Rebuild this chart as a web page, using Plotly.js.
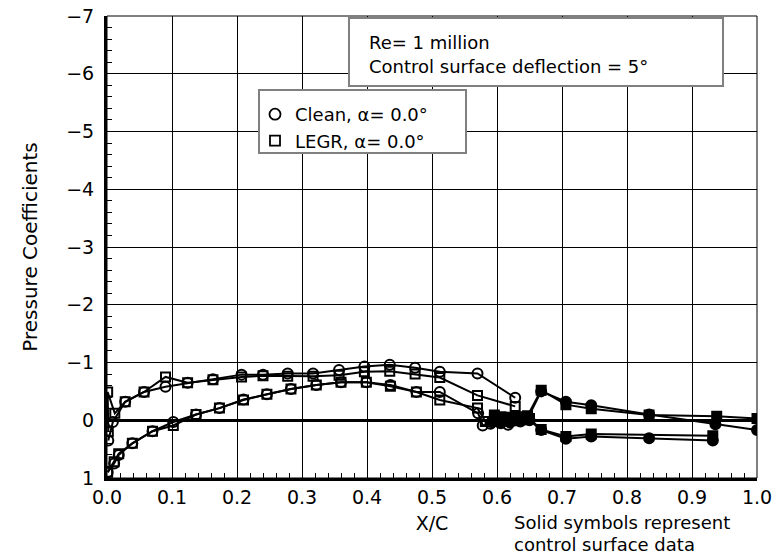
<!DOCTYPE html>
<html>
<head>
<meta charset="utf-8">
<script src="https://cdn.plot.ly/plotly-3.0.1.min.js"></script>
<style>
  html, body { margin: 0; padding: 0; background: #fff; }
  #chart { width: 780px; height: 556px; }
</style>
</head>
<body>
<div id="chart"></div>
<script>
// Pressure distribution, Re = 1 million, control surface at 5 deg.
// Main element: upper surface listed from trailing edge toward the leading edge,
// lower surface from the leading edge back into the cove.

// Clean airfoil, main element
const cleanUpperX  = [0.628, 0.570, 0.512, 0.474, 0.435, 0.396, 0.357, 0.317, 0.278, 0.240, 0.207, 0.163, 0.124, 0.090, 0.057, 0.028, 0.009, 0.002];
const cleanUpperCp = [-0.39, -0.81, -0.84, -0.91, -0.96, -0.93, -0.87, -0.81, -0.81, -0.79, -0.79, -0.71, -0.65, -0.58, -0.49, -0.32, 0.03, 0.35];
const cleanLowerX  = [0.001, 0.011, 0.018, 0.039, 0.070, 0.102, 0.137, 0.173, 0.210, 0.246, 0.283, 0.322, 0.360, 0.399, 0.436, 0.476, 0.512, 0.571, 0.578, 0.590, 0.604, 0.617];
const cleanLowerCp = [0.90, 0.75, 0.60, 0.40, 0.19, 0.03, -0.10, -0.21, -0.36, -0.45, -0.54, -0.61, -0.66, -0.66, -0.61, -0.49, -0.49, -0.12, 0.09, 0.06, 0.04, 0.08];

// LEGR airfoil, main element
const legrUpperX  = [0.628, 0.570, 0.512, 0.474, 0.435, 0.396, 0.357, 0.317, 0.278, 0.240, 0.207, 0.163, 0.124, 0.090, 0.057, 0.028, 0.012, 0.001, 0.002];
const legrUpperCp = [-0.24, -0.43, -0.74, -0.80, -0.85, -0.84, -0.78, -0.76, -0.76, -0.77, -0.75, -0.70, -0.65, -0.75, -0.49, -0.32, -0.12, -0.49, 0.20];
const legrLowerX  = [0.001, 0.011, 0.018, 0.039, 0.070, 0.102, 0.137, 0.173, 0.210, 0.246, 0.283, 0.322, 0.360, 0.399, 0.436, 0.476, 0.512, 0.570, 0.582, 0.598];
const legrLowerCp = [0.90, 0.72, 0.58, 0.40, 0.19, 0.09, -0.10, -0.21, -0.35, -0.45, -0.54, -0.61, -0.66, -0.66, -0.59, -0.49, -0.35, -0.21, 0.02, -0.02];

// Control surface (solid symbols)
const cleanFlapUpperX  = [0.592, 0.604, 0.618, 0.633, 0.648, 0.668, 0.706, 0.745, 0.834, 0.936, 1.000];
const cleanFlapUpperCp = [0.03, -0.02, -0.04, -0.03, -0.05, -0.50, -0.32, -0.26, -0.10, 0.07, 0.17];
const cleanFlapLowerX  = [0.592, 0.606, 0.620, 0.636, 0.650, 0.668, 0.706, 0.745, 0.834, 0.932];
const cleanFlapLowerCp = [0.03, 0.05, 0.04, 0.02, 0.00, 0.17, 0.32, 0.28, 0.31, 0.35];

const legrFlapUpperX  = [0.596, 0.606, 0.620, 0.634, 0.647, 0.668, 0.706, 0.745, 0.834, 0.938, 1.000];
const legrFlapUpperCp = [-0.09, -0.06, -0.05, -0.06, -0.08, -0.52, -0.27, -0.20, -0.09, -0.07, -0.03];
const legrFlapLowerX  = [0.596, 0.610, 0.624, 0.638, 0.650, 0.668, 0.706, 0.745, 0.932];
const legrFlapLowerCp = [-0.04, 0.00, 0.01, -0.01, -0.03, 0.16, 0.28, 0.24, 0.27];

const legendNames = ['Clean, \u03b1= 0.0\u00b0', 'LEGR, \u03b1= 0.0\u00b0'];
const infoLines = ['Re= 1 million', 'Control surface deflection = 5\u00b0'];
const noteLines = ['Solid symbols represent', 'control surface data'];

const FONT = 'DejaVu Sans, Verdana, sans-serif';
const INK = '#000';

function series(x, y, symbol, size) {
  return {
    x: x, y: y, type: 'scatter', mode: 'lines+markers', showlegend: false,
    hoverinfo: 'x+y',
    line: { color: INK, width: 2 },
    marker: { symbol: symbol, size: size, color: INK, line: { color: INK, width: 2 } }
  };
}

const traces = [
  series(cleanUpperX, cleanUpperCp, 'circle-open', 10),
  series(cleanLowerX, cleanLowerCp, 'circle-open', 10),
  series(legrUpperX, legrUpperCp, 'square-open', 9),
  series(legrLowerX, legrLowerCp, 'square-open', 9),
  series(cleanFlapUpperX, cleanFlapUpperCp, 'circle', 10),
  series(cleanFlapLowerX, cleanFlapLowerCp, 'circle', 10),
  series(legrFlapUpperX, legrFlapUpperCp, 'square', 9),
  series(legrFlapLowerX, legrFlapLowerCp, 'square', 9),
  // symbol-only legend entries
  { x: [null], y: [null], type: 'scatter', mode: 'markers', name: legendNames[0],
    marker: { symbol: 'circle-open', size: 11, color: INK, line: { color: INK, width: 1.8 } } },
  { x: [null], y: [null], type: 'scatter', mode: 'markers', name: legendNames[1],
    marker: { symbol: 'square-open', size: 10, color: INK, line: { color: INK, width: 1.8 } } }
];

// plot area: 107..757 px wide, 16..478 px tall
const L = 107, T = 16, W = 650, H = 462;
const px = v => (v - L) / W;
const py = v => 1 - (v - T) / H;

const layout = {
  width: 780, height: 556,
  margin: { l: L, r: 780 - L - W, t: T, b: 556 - T - H, pad: 0 },
  paper_bgcolor: '#fff', plot_bgcolor: '#fff',
  font: { family: FONT, size: 18, color: INK },
  showlegend: true,
  legend: {
    x: px(255), y: py(96), xanchor: 'left', yanchor: 'top',
    bgcolor: 'rgba(0,0,0,0)', borderwidth: 0,
    font: { family: FONT, size: 18, color: INK },
    itemwidth: 30, tracegroupgap: 0
  },
  xaxis: {
    range: [0, 1], tick0: 0, dtick: 0.1, tickformat: '.1f',
    ticks: 'inside', ticklen: 8, tickwidth: 1, tickcolor: INK,
    showgrid: true, gridcolor: INK, gridwidth: 1,
    showline: true, linewidth: 3, linecolor: INK, zeroline: false,
    minor: { dtick: 0.02, ticks: 'inside', ticklen: 5, tickwidth: 1, tickcolor: INK, showgrid: false },
    tickfont: { family: FONT, size: 19, color: INK },
    ticklabelstandoff: 0,
    title: { text: 'X/C', font: { family: FONT, size: 19, color: INK }, standoff: 10 },
    fixedrange: true
  },
  yaxis: {
    range: [1, -7], tick0: 0, dtick: 1,
    ticks: 'inside', ticklen: 8, tickwidth: 1, tickcolor: INK,
    showgrid: true, gridcolor: INK, gridwidth: 1,
    showline: true, linewidth: 3, linecolor: INK,
    zeroline: true, zerolinewidth: 3, zerolinecolor: INK,
    minor: { dtick: 0.2, ticks: 'inside', ticklen: 5, tickwidth: 1, tickcolor: INK, showgrid: false },
    tickfont: { family: FONT, size: 19, color: INK },
    ticklabelstandoff: 6,
    title: { text: 'Pressure Coefficients', font: { family: FONT, size: 20, color: INK }, standoff: 24 },
    fixedrange: true
  },
  shapes: [
    // thin frame on the top and right
    { type: 'rect', xref: 'paper', yref: 'paper', x0: 0, x1: 1, y0: 0, y1: 1,
      line: { color: INK, width: 1 }, fillcolor: 'rgba(0,0,0,0)', layer: 'above' },
    // info box
    { type: 'rect', xref: 'paper', yref: 'paper', x0: px(349), x1: px(723), y0: py(86), y1: py(18),
      line: { color: '#808080', width: 2 }, fillcolor: '#fff', layer: 'above' },
    // legend box
    { type: 'rect', xref: 'paper', yref: 'paper', x0: px(259), x1: px(466), y0: py(153), y1: py(90),
      line: { color: '#808080', width: 2 }, fillcolor: '#fff', layer: 'above' }
  ],
  annotations: [
    { xref: 'paper', yref: 'paper', x: px(367), y: py(43), xanchor: 'left', yanchor: 'middle',
      text: infoLines[0], showarrow: false, font: { family: FONT, size: 18, color: INK } },
    { xref: 'paper', yref: 'paper', x: px(367), y: py(66), xanchor: 'left', yanchor: 'middle',
      text: infoLines[1], showarrow: false, font: { family: FONT, size: 18, color: INK } },
    { xref: 'paper', yref: 'paper', x: px(512), y: py(522), xanchor: 'left', yanchor: 'middle',
      text: noteLines[0], showarrow: false, font: { family: FONT, size: 18, color: INK } },
    { xref: 'paper', yref: 'paper', x: px(512), y: py(544), xanchor: 'left', yanchor: 'middle',
      text: noteLines[1], showarrow: false, font: { family: FONT, size: 18, color: INK } }
  ]
};

Plotly.newPlot('chart', traces, layout, { displayModeBar: false, staticPlot: true });
</script>
</body>
</html>
